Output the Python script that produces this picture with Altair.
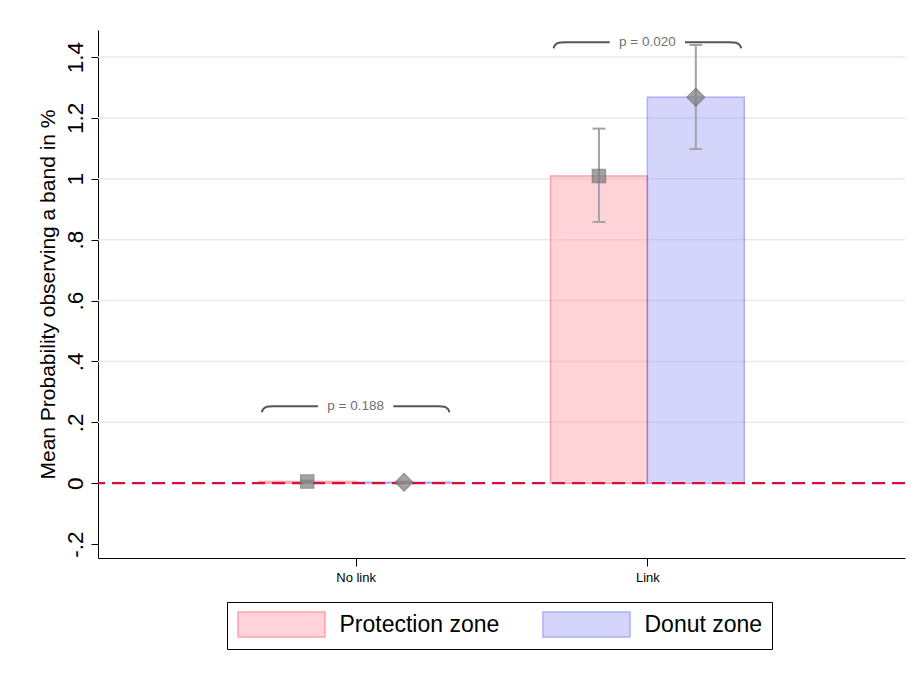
import altair as alt
import pandas as pd

# ---------------- data ----------------
categories = ["No link", "Link"]
cat_pos = [1, 2]
zones = ["Protection zone", "Donut zone"]

protection_mean = [0.005, 1.009]
protection_lo = [0.002, 0.858]
protection_hi = [0.008, 1.165]

donut_mean = [0.003, 1.268]
donut_lo = [0.001, 1.098]
donut_hi = [0.005, 1.440]

p_labels = ["p = 0.188", "p = 0.020"]
bracket_y = [0.253, 1.449]

y_ticks = [-0.2, 0, 0.2, 0.4, 0.6, 0.8, 1.0, 1.2, 1.4]
y_tick_labels = ["-.2", "0", ".2", ".4", ".6", ".8", "1", "1.2", "1.4"]
grid_vals = [0.2, 0.4, 0.6, 0.8, 1.0, 1.2, 1.4]

# ---------------- layout helpers ----------------
BW = 0.332          # bar width in category units
FONT = "Liberation Sans"

bars, pts = [], []
for i, c in enumerate(cat_pos):
    for z, m, lo, hi, sgn in [
        (zones[0], protection_mean[i], protection_lo[i], protection_hi[i], -1),
        (zones[1], donut_mean[i], donut_lo[i], donut_hi[i], 1),
    ]:
        x0, x1 = (c - BW, c) if sgn < 0 else (c, c + BW)
        bars.append(dict(zone=z, x0=x0, x1=x1, mean=m))
        xc = c + sgn * BW / 2
        pts.append(dict(marker=z, x=xc, xl=xc - 0.022, xr=xc + 0.022, mean=m, lo=lo, hi=hi))

bars_df = pd.DataFrame(bars)
pts_df = pd.DataFrame(pts)

br_rows = []
for i, (c, yv) in enumerate(zip(cat_pos, bracket_y)):
    for side in (-1, 1):
        shape = [(0.322, -0.02), (0.316, -0.007), (0.305, -0.001), (0.29, 0.0),
                 (0.22, 0.0), (0.129, 0.0)]
        for k, (dx, dy) in enumerate(shape):
            br_rows.append(dict(seg=f"{i}_{side}", order=k, x=c + side * dx, y=yv + dy))
br_df = pd.DataFrame(br_rows)
txt_df = pd.DataFrame(dict(x=cat_pos, y=bracket_y, label=p_labels))

grid_df = pd.DataFrame(dict(y=grid_vals))

# ---------------- scales ----------------
xscale = alt.Scale(domain=[0.117, 2.883], nice=False, zero=False)
yscale = alt.Scale(domain=[-0.246, 1.489], nice=False, zero=False)

x_label_expr = " : ".join(
    [f"datum.value == {p} ? '{l}'" for p, l in zip(cat_pos[:-1], categories[:-1])]
    + [f"'{categories[-1]}'"]
)
y_label_expr = "".join(
    [f"abs(datum.value - ({v})) < 0.001 ? '{l}' : " for v, l in zip(y_ticks, y_tick_labels)]
) + "''"

x_axis = alt.Axis(values=cat_pos, labelExpr=x_label_expr, title=None, grid=False,
                  tickSize=8, tickColor="black", domainColor="black", labelFontSize=13,
                  labelColor="black", labelFont=FONT, labelPadding=5, tickWidth=1,
                  domainWidth=1)
y_axis = alt.Axis(values=y_ticks, labelExpr=y_label_expr,
                  title="Mean Probability observing a band in %", grid=False,
                  tickSize=7, tickColor="black", domainColor="black",
                  labelFontSize=22.5, labelColor="black", labelFont=FONT,
                  labelAngle=270, labelAlign="center", labelBaseline="bottom",
                  labelPadding=4, titleFontSize=21, titleFontWeight="normal",
                  titleColor="black", titleFont=FONT, titlePadding=6,
                  tickWidth=1, domainWidth=1)

# ---------------- layers ----------------
grid = alt.Chart(grid_df).mark_rule(color="#e2ecee", strokeWidth=1.5).encode(
    y=alt.Y("y:Q", scale=yscale, axis=y_axis)
)

def make_legend():
    return alt.Legend(
        title=None, orient="none", legendX=129, legendY=572, direction="horizontal",
        padding=9, strokeColor="black", fillColor="white",
        labelFontSize=23, labelFont=FONT, labelColor="black",
        labelExpr=f"datum.label == '{zones[-1]}' ? datum.label + '\u00a0\u00a0\u00a0' : datum.label",
        symbolType="M-3.48,-1H3.48V1H-3.48Z", symbolSize=625, symbolOffset=32,
        symbolOpacity=0.4, symbolStrokeWidth=1.5, labelOffset=44.5, columnPadding=40,
    )

bar = alt.Chart(bars_df).mark_bar(opacity=0.4, strokeWidth=1.5).encode(
    x=alt.X("x0:Q", scale=xscale, axis=x_axis),
    x2="x1:Q",
    y=alt.Y("mean:Q", scale=yscale, axis=y_axis),
    y2=alt.datum(0),
    fill=alt.Fill("zone:N", scale=alt.Scale(domain=zones, range=["#ff949e", "#9898f8"]),
                  legend=make_legend()),
    stroke=alt.Stroke("zone:N", scale=alt.Scale(domain=zones, range=["#ff192b", "#3434f5"]),
                      legend=make_legend()),
)

zero = alt.Chart(pd.DataFrame(dict(y=[0]))).mark_rule(
    color="#d3113c", strokeWidth=2.2, strokeDash=[13, 7]
).encode(y=alt.Y("y:Q", scale=yscale))

err = alt.Chart(pts_df).mark_rule(color="#a3a3a3", strokeWidth=2).encode(
    x=alt.X("x:Q", scale=xscale), y=alt.Y("lo:Q", scale=yscale), y2="hi:Q"
)
cap_lo = alt.Chart(pts_df).mark_rule(color="#a3a3a3", strokeWidth=2).encode(
    x=alt.X("xl:Q", scale=xscale), x2="xr:Q", y=alt.Y("lo:Q", scale=yscale)
)
cap_hi = alt.Chart(pts_df).mark_rule(color="#a3a3a3", strokeWidth=2).encode(
    x=alt.X("xl:Q", scale=xscale), x2="xr:Q", y=alt.Y("hi:Q", scale=yscale)
)

points = alt.Chart(pts_df).mark_point(
    filled=True, color="#7d7d7d", opacity=0.7, stroke="#6a6a6a", strokeWidth=1.5
).encode(
    x=alt.X("x:Q", scale=xscale),
    y=alt.Y("mean:Q", scale=yscale),
    shape=alt.Shape("marker:N", scale=alt.Scale(domain=zones, range=["square", "diamond"]),
                    legend=None),
    size=alt.Size("marker:N", scale=alt.Scale(domain=zones, range=[169, 300]), legend=None),
)

brackets = alt.Chart(br_df).mark_line(color="#555555", strokeWidth=2, interpolate="basis").encode(
    x=alt.X("x:Q", scale=xscale),
    y=alt.Y("y:Q", scale=yscale),
    detail="seg:N",
    order="order:Q",
)
ptext = alt.Chart(txt_df).mark_text(fontSize=13.5, font=FONT, color="#707070", baseline="middle").encode(
    x=alt.X("x:Q", scale=xscale), y=alt.Y("y:Q", scale=yscale), text="label:N"
)

chart = alt.layer(grid, bar, zero, err, cap_lo, cap_hi, points, brackets, ptext).resolve_scale(
    shape="independent", size="independent"
).properties(
    width=807, height=528,
    autosize=alt.AutoSizeParams(type="none"),
    padding={"left": 98, "top": 30, "right": 12, "bottom": 115},
    background="white",
).configure_view(stroke=None)

chart.save("out.html", embed_options={"renderer": "svg", "actions": False})
